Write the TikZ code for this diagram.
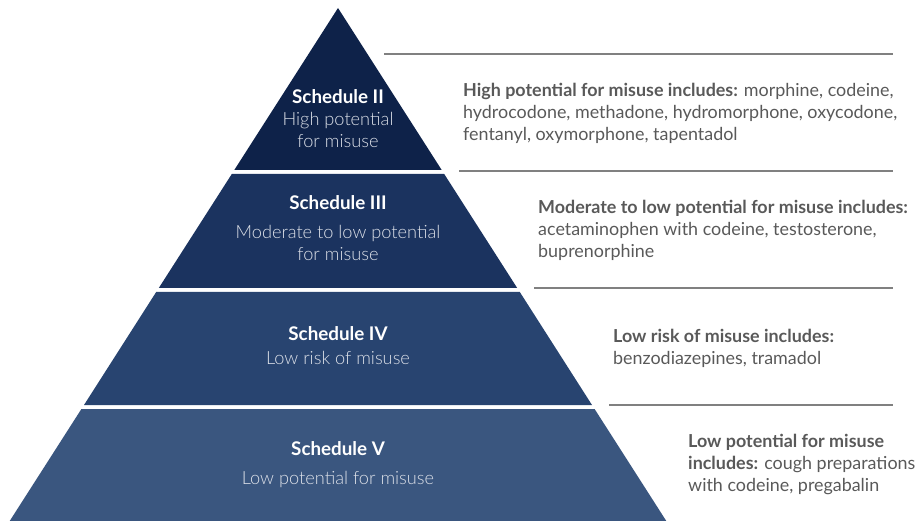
\documentclass[tikz,border=0pt]{standalone}
\usepackage{fontspec}
\setmainfont{Lato}
\newfontfamily\tierlight{Lato Light}
\definecolor{tierII}{HTML}{0E2249}
\definecolor{tierIII}{HTML}{1B335F}
\definecolor{tierIV}{HTML}{284470}
\definecolor{tierV}{HTML}{3A567F}
\definecolor{notegray}{HTML}{595959}
\definecolor{rulegray}{HTML}{808080}
\definecolor{paletext}{HTML}{DCE0E8}
\begin{document}
\begin{tikzpicture}[x=1pt,y=-1pt,
    tiertitle/.style={font=\fontsize{18.8}{22}\selectfont\bfseries, text=white, align=center, anchor=base, inner sep=0pt},
    tiertext/.style={font=\fontsize{18.2}{22.5}\selectfont\tierlight, text=paletext, align=center, anchor=base, inner sep=0pt},
    note/.style={font=\fontsize{17.9}{22}\selectfont, text=notegray, align=left, anchor=base west, inner sep=0pt},
    rule/.style={draw=rulegray, line width=1.2pt}]
        \useasboundingbox (0,0) rectangle (921,521);
        \def\tiertwo{(338,8) -- (441.7,170) -- (234.3,170) -- cycle}
        \def\tierthree{(231.8,174) -- (444.2,174) -- (517.2,288) -- (158.8,288) -- cycle}
        \def\tierfour{(156.2,292) -- (519.8,292) -- (592,405) -- (84,405) -- cycle}
        \def\tierfive{(81.4,409) -- (594.6,409) -- (666.3,521) -- (9.7,521) -- cycle}

        % Fill the four tiers of the pyramid
        \fill[tierII] \tiertwo;
        \fill[tierIII] \tierthree;
        \fill[tierIV] \tierfour;
        \fill[tierV] \tierfive;

        % Tier labels (multi-line nodes sit on their last line)
        \node[tiertitle] (t2) at (338,104) {Schedule II};
        \node[tiertext] (d2) at (338,148) {High potential\\for misuse};
        \node[tiertitle] (t3) at (338,210) {Schedule III};
        \node[tiertext] (d3) at (338,261) {Moderate to low potential\\for misuse};
        \node[tiertitle] (t4) at (338,341) {Schedule IV};
        \node[tiertext] (d4) at (338,364) {Low risk of misuse};
        \node[tiertitle] (t5) at (338,455) {Schedule V};
        \node[tiertext] (d5) at (338,484) {Low potential for misuse};

        % Rules beside the pyramid
        \coordinate (r2a) at (384,54);  \coordinate (r2b) at (893,54);
        \coordinate (r3a) at (459,171); \coordinate (r3b) at (893,171);
        \coordinate (r4a) at (534,288); \coordinate (r4b) at (893,288);
        \coordinate (r5a) at (609,405); \coordinate (r5b) at (893,405);
        \draw[rule] (r2a) -- (r2b);
        \draw[rule] (r3a) -- (r3b);
        \draw[rule] (r4a) -- (r4b);
        \draw[rule] (r5a) -- (r5b);

        % Notes on each schedule
        \node[note] (n2) at (463,141) {\textbf{High potential for misuse includes:} morphine, codeine,\\hydrocodone, methadone, hydromorphone, oxycodone,\\fentanyl, oxymorphone, tapentadol};
        \node[note] (n3) at (538,258) {\textbf{Moderate to low potential for misuse includes:}\\acetaminophen with codeine, testosterone,\\buprenorphine};
        \node[note] (n4) at (613,364) {\textbf{Low risk of misuse includes:}\\benzodiazepines, tramadol};
        \node[note] (n5) at (688,491) {\textbf{Low potential for misuse}\\\textbf{includes:} cough preparations\\with codeine, pregabalin};
    \end{tikzpicture}
\end{document}
